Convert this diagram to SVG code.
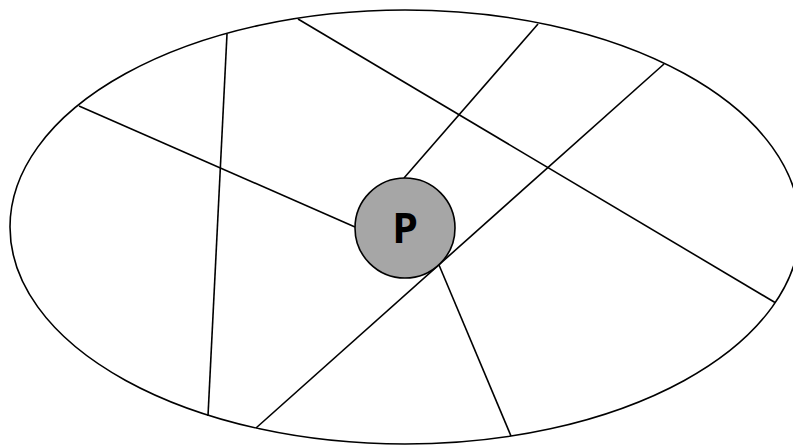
<svg xmlns="http://www.w3.org/2000/svg" width="793" height="446" viewBox="0 0 793 446">
<style>
.l{stroke:#000;stroke-width:1.6;fill:none}
.n{fill:#a6a6a6;stroke:#000;stroke-width:1.6}
.t{font-family:"Open Sans","Liberation Sans",sans-serif;font-weight:bold;font-size:41px;fill:#000}
</style>
<rect width="793" height="446" fill="#fff"/>
<g id="boundary"><ellipse class="l" cx="405" cy="227" rx="395" ry="217"/></g>
<g id="connectors">
<line class="l" x1="79" y1="106" x2="355" y2="227"/>
<line class="l" x1="227" y1="34" x2="208" y2="416"/>
<line class="l" x1="298" y1="19" x2="775" y2="302.5"/>
<line class="l" x1="538" y1="24" x2="404" y2="178"/>
<line class="l" x1="664" y1="64" x2="256" y2="428"/>
<line class="l" x1="439" y1="265" x2="511" y2="436"/>
</g>
<g id="P">
<circle class="n" cx="405" cy="228" r="50"/>
<text class="t" x="405" y="243" text-anchor="middle">P</text>
</g>
</svg>
